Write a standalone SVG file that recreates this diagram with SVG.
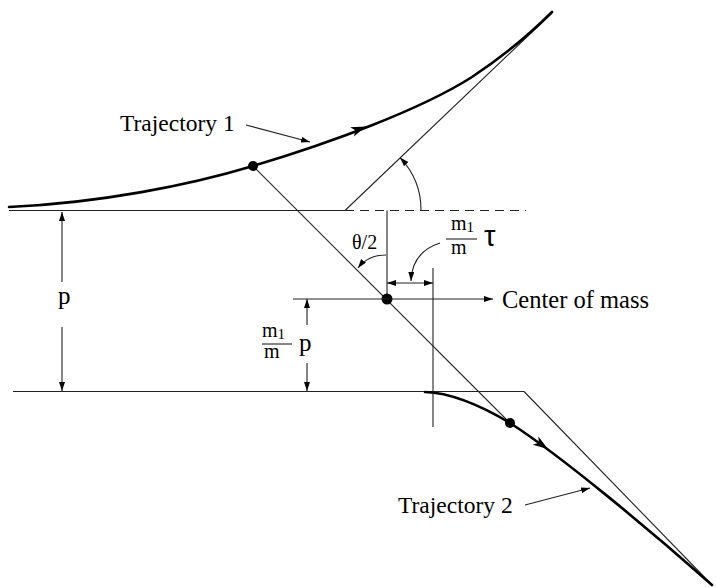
<svg xmlns="http://www.w3.org/2000/svg" width="716" height="588" viewBox="0 0 716 588">
<defs>
<style>
.thin{fill:none;stroke:#222;stroke-width:1.1}
.traj{fill:none;stroke:#000;stroke-width:2.6;stroke-linecap:round}
.dot{fill:#000}
.lbl{font-family:"Liberation Serif","Times New Roman",serif;fill:#000}
.ah{fill:#000}
</style>
<marker id="a" markerUnits="userSpaceOnUse" markerWidth="10" markerHeight="8" refX="9" refY="3" orient="auto-start-reverse">
<path d="M0,0 L9,3 L0,6 z" fill="#000"/>
</marker>
</defs>
<rect width="716" height="588" fill="#fff"/>
<g id="construction">
<line class="thin" x1="9" y1="210.5" x2="345" y2="210.5"/>
<line class="thin" x1="345" y1="210.5" x2="526" y2="210.5" stroke-dasharray="9,6" stroke="#444"/>
<line class="thin" x1="345" y1="210.5" x2="552" y2="13"/>
<line class="thin" x1="13" y1="391.5" x2="524" y2="391.5"/>
<line class="thin" x1="524" y1="391.5" x2="712" y2="585"/>
<line class="thin" x1="253" y1="166" x2="510" y2="423"/>
<line class="thin" x1="387" y1="210.5" x2="387" y2="299"/>
<line class="thin" x1="433" y1="268" x2="433" y2="427"/>
</g>
<g id="trajectory1">
<path class="traj" d="M9,207 C100,203 190,185 253,166 C330,143 420,110 472,77 C505,55 532,32 552,12"/>
<path class="ah" transform="translate(366,126.5) rotate(-21)" d="M0,0 L-15,-5 L-11,0 L-15,5 z"/>
<circle class="dot" cx="253" cy="166" r="5"/>
</g>
<g id="trajectory2">
<path class="traj" d="M425,392 C455,393 485,408 510,423 C560,455 650,530 712,585"/>
<path class="ah" transform="translate(548,449) rotate(34)" d="M0,0 L-15,-5 L-11,0 L-15,5 z"/>
<circle class="dot" cx="510" cy="423" r="5"/>
</g>
<g id="center-of-mass">
<circle class="dot" cx="387" cy="299" r="5.5"/>
<text class="lbl" x="502" y="308" font-size="24.5">Center of mass</text>
</g>
<g id="label-traj1">
<text class="lbl" x="120" y="131" font-size="23.5">Trajectory 1</text>
</g>
<g id="label-traj2">
<text class="lbl" x="398" y="513" font-size="23.5">Trajectory 2</text>
</g>
<g id="label-p">
<text class="lbl" x="58" y="304" font-size="25">p</text>
</g>
<g id="label-m1p">
<text class="lbl" x="262" y="337" font-size="20">m<tspan font-size="15" dy="2">1</tspan></text>
<line class="thin" x1="262" y1="344" x2="292" y2="344"/>
<text class="lbl" x="264" y="358" font-size="20">m</text>
<text class="lbl" x="299" y="351" font-size="25">p</text>
</g>
<g id="label-theta">
<text class="lbl" x="352" y="249" font-size="20">θ/2</text>
</g>
<g id="label-tau">
<text class="lbl" x="451" y="230" font-size="20">m<tspan font-size="15" dy="2">1</tspan></text>
<line class="thin" x1="446" y1="239" x2="477" y2="239"/>
<text class="lbl" x="451" y="254" font-size="20">m</text>
<text x="484" y="246" font-size="29" font-family="Liberation Sans, Arial, sans-serif">τ</text>
</g>
<g id="connectors">
<line class="thin" x1="246" y1="125" x2="310" y2="142" marker-end="url(#a)"/>
<line class="thin" x1="525" y1="505" x2="590" y2="488" marker-end="url(#a)"/>
<line class="thin" x1="293" y1="299" x2="493" y2="299" marker-end="url(#a)"/>
<path class="thin" d="M421,210.5 A76,76 0 0,0 400,157.6" marker-end="url(#a)"/>
<path class="thin" d="M386,255 Q368,255 358,268" marker-end="url(#a)"/>
<path class="thin" d="M440,243 Q412,252 411,281" marker-end="url(#a)"/>
<line class="thin" x1="387" y1="283" x2="433" y2="283" marker-start="url(#a)" marker-end="url(#a)"/>
<line class="thin" x1="62" y1="282" x2="62" y2="212" marker-end="url(#a)"/>
<line class="thin" x1="62" y1="327" x2="62" y2="391" marker-end="url(#a)"/>
<line class="thin" x1="307" y1="325" x2="307" y2="299" marker-end="url(#a)"/>
<line class="thin" x1="307" y1="363" x2="307" y2="391" marker-end="url(#a)"/>
</g>
</svg>
